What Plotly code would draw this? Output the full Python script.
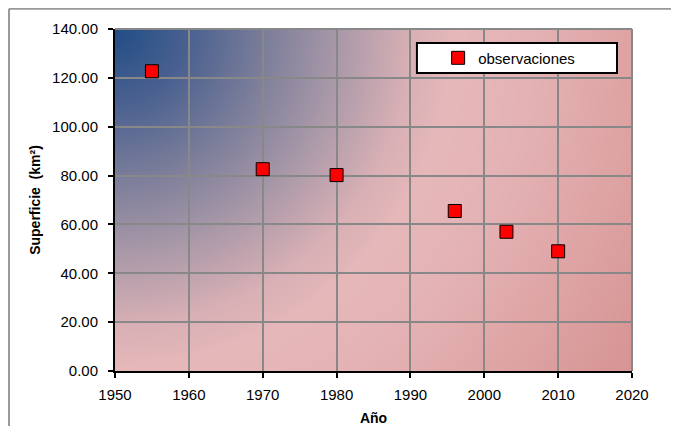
import numpy as np, zlib, struct, base64
import plotly.graph_objects as go

# data
years = [1955, 1970, 1980, 1996, 2003, 2010]
area = [122.7, 82.6, 80.2, 65.5, 57.0, 49.0]
series_name = "observaciones"
x_title = "Año"
y_title = "Superficie  (km²)"

# gradient background image for plot area (radial from top-left corner)
W, H = 517, 342
yy, xx = np.mgrid[0:H, 0:W]
r = np.sqrt(xx.astype(float) ** 2 + yy.astype(float) ** 2)
rstops = [0, 73, 147, 221, 295, 340, 420, 520, 620]
rs = [34, 74, 122, 168, 216, 230, 228, 222, 215]
gs = [78, 97, 125, 152, 176, 184, 178, 163, 148]
bs = [134, 144, 154, 168, 181, 186, 180, 163, 148]
img = np.dstack([np.interp(r, rstops, rs), np.interp(r, rstops, gs), np.interp(r, rstops, bs)]).astype(np.uint8)
raw = b"".join(b"\x00" + img[i].tobytes() for i in range(H))

def chunk(tag, data):
    return struct.pack(">I", len(data)) + tag + data + struct.pack(">I", zlib.crc32(tag + data) & 0xffffffff)

png = (b"\x89PNG\r\n\x1a\n" + chunk(b"IHDR", struct.pack(">IIBBBBB", W, H, 8, 2, 0, 0, 0))
       + chunk(b"IDAT", zlib.compress(raw, 9)) + chunk(b"IEND", b""))
src = "data:image/png;base64," + base64.b64encode(png).decode()

fig = go.Figure()
fig.add_trace(go.Scatter(
    x=years, y=area, mode="markers", name=series_name,
    marker=dict(symbol="square", size=13, color="#FF0000", line=dict(color="#000000", width=1)),
    showlegend=True,
))

font = "Liberation Sans, Arial, sans-serif"
grid = "#888888"
fig.update_layout(
    width=663, height=418,
    margin=dict(l=107, r=39, t=21, b=55, autoexpand=False),
    paper_bgcolor="white", plot_bgcolor="rgba(0,0,0,0)",
    font=dict(family=font, size=15, color="#000000"),
    showlegend=True,
    legend=dict(x=0.625, y=0.915, xanchor="left", yanchor="middle",
                bgcolor="rgba(0,0,0,0)", borderwidth=0, font=dict(size=15)),
    images=[dict(source=src, xref="paper", yref="paper", x=0, y=1, sizex=1, sizey=1,
                 sizing="stretch", layer="below")],
    xaxis=dict(range=[1950, 2020], dtick=10, tick0=1950, showgrid=True, gridcolor=grid, gridwidth=2,
               showline=True, linecolor="#000000", linewidth=2, ticks="outside", ticklen=5,
               tickcolor="#000000", tickwidth=1.5, zeroline=False, ticklabelstandoff=4,
               automargin=False,
               title=dict(text="<b>" + x_title + "</b>", font=dict(size=14), standoff=12)),
    yaxis=dict(range=[0, 140], dtick=20, tickformat=".2f", showgrid=True, gridcolor=grid, gridwidth=2,
               showline=True, linecolor="#000000", linewidth=2, ticks="outside", ticklen=5,
               tickcolor="#000000", tickwidth=1.5, zeroline=False, ticklabelstandoff=7,
               automargin=False,
               title=dict(text="<b>" + y_title + "</b>", font=dict(size=14), standoff=8)),
    shapes=[
        dict(type="line", xref="paper", yref="paper", x0=0, x1=1, y0=1, y1=1, line=dict(color=grid, width=2), layer="above"),
        dict(type="line", xref="paper", yref="paper", x0=1, x1=1, y0=0, y1=1, line=dict(color=grid, width=2), layer="above"),
        dict(type="rect", xref="paper", yref="paper", x0=0.584, x1=0.971, y0=0.871, y1=0.959,
             fillcolor="white", line=dict(color="black", width=2), layer="above"),
        dict(type="line", xref="paper", yref="paper", x0=-0.205, x1=1.1, y0=1.059, y1=1.059,
             line=dict(color="#999999", width=2)),
        dict(type="line", xref="paper", yref="paper", x0=-0.205, x1=-0.205, y0=-0.2, y1=1.059,
             line=dict(color="#999999", width=2)),
    ],
)

fig.write_html("out.html")
